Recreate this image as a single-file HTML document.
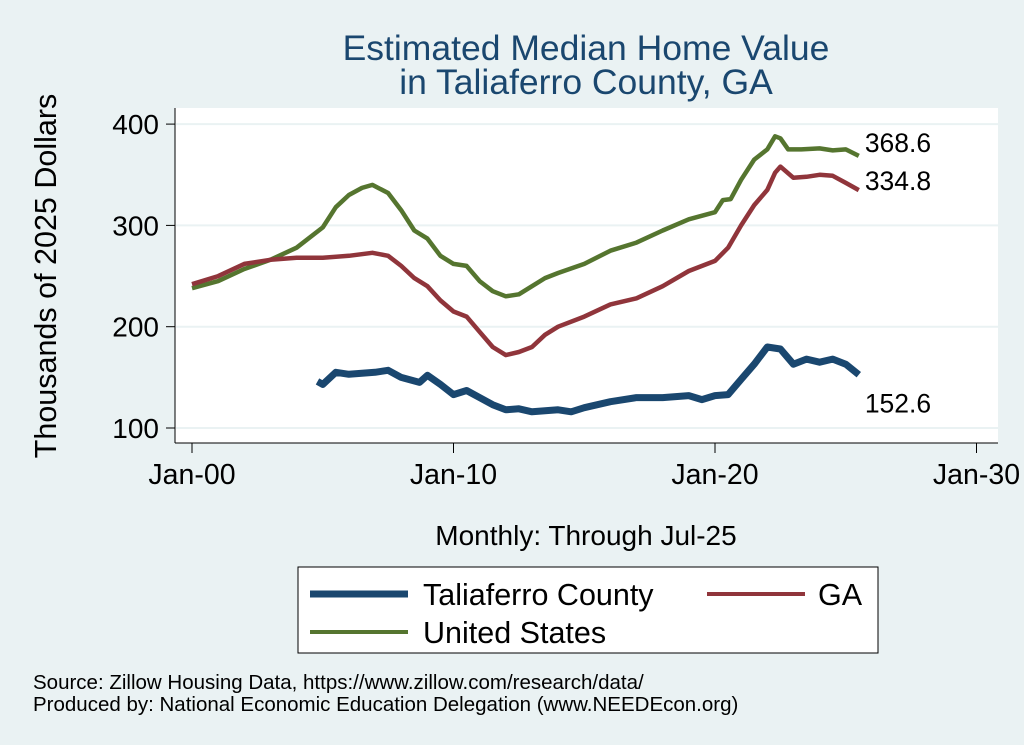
<!DOCTYPE html>
<html><head><meta charset="utf-8"><style>
body{margin:0;background:#eaf2f3;}
svg{display:block;font-family:"Liberation Sans",sans-serif;}
</style></head><body>
<svg id="chart" width="1024" height="745">
<rect x="0" y="0" width="1024" height="745" fill="#eaf2f3"/>
<rect x="175" y="108" width="823" height="335" fill="#ffffff"/>
<text x="586" y="60" font-size="35.5" fill="#1a476f" text-anchor="middle">Estimated Median Home Value</text>
<text x="586" y="94" font-size="35.5" fill="#1a476f" text-anchor="middle">in Taliaferro County, GA</text>
<text transform="translate(56,276) rotate(-90)" font-size="30.5" text-anchor="middle" fill="#000">Thousands of 2025 Dollars</text>
<text x="586" y="545" font-size="28" text-anchor="middle">Monthly: Through Jul-25</text>
<g id="grid"></g><g id="axes"></g><g id="series"></g>
<rect x="298" y="567" width="580" height="86" fill="#fff" stroke="#000" stroke-width="1"/>
<line x1="310" y1="594" x2="408" y2="594" stroke="#1a476f" stroke-width="7"/>
<text x="423" y="605" font-size="30.5">Taliaferro County</text>
<line x1="707" y1="594" x2="805" y2="594" stroke="#90353b" stroke-width="4"/>
<text x="818" y="605" font-size="30.5">GA</text>
<line x1="310" y1="632" x2="408" y2="632" stroke="#55752f" stroke-width="4"/>
<text x="423" y="643" font-size="30.5">United States</text>
<text x="33" y="689" font-size="20.5">Source: Zillow Housing Data, https://www.zillow.com/research/data/</text>
<text x="33" y="711" font-size="20.5">Produced by: National Economic Education Delegation (www.NEEDEcon.org)</text>
</svg>
<script>
const yTicks=[100,200,300,400];
const xTicks=[2000,2010,2020,2030];
const xTickLabels=["Jan-00","Jan-10","Jan-20","Jan-30"];
const usX=[2000,2001,2002,2003,2004,2005,2005.5,2006,2006.5,2006.9,2007.5,2008,2008.5,2009,2009.5,2010,2010.5,2011,2011.5,2012,2012.5,2013,2013.5,2014,2015,2016,2017,2018,2019,2020,2020.3,2020.6,2021,2021.5,2022,2022.3,2022.5,2022.8,2023.3,2024,2024.5,2025,2025.5];
const usY=[238,245,257,266,278,298,318,330,337,340,332,315,295,287,270,262,260,245,235,230,232,240,248,253,262,275,283,295,306,313,325,326,345,365,375,388,386,375,375,376,374,375,368.6];
const gaX=[2000,2001,2002,2003,2004,2005,2006,2006.9,2007.5,2008,2008.5,2009,2009.5,2010,2010.5,2011,2011.5,2012,2012.5,2013,2013.5,2014,2015,2016,2017,2018,2019,2020,2020.5,2021,2021.5,2022,2022.3,2022.5,2023,2023.5,2024,2024.5,2025,2025.5];
const gaY=[242,250,262,266,268,268,270,273,270,260,248,240,226,215,210,195,180,172,175,180,192,200,210,222,228,240,255,265,278,300,320,335,352,358,347,348,350,349,342,334.8];
const tcX=[2004.8,2005,2005.5,2006,2007,2007.5,2008,2008.7,2009,2009.5,2010,2010.5,2011,2011.5,2012,2012.5,2013,2014,2014.5,2015,2016,2017,2018,2019,2019.5,2020,2020.5,2021,2021.5,2022,2022.5,2023,2023.5,2024,2024.5,2025,2025.5];
const tcY=[146,143,155,153,155,157,150,145,152,143,133,137,130,123,118,119,116,118,116,120,126,130,130,132,128,132,133,148,163,180,178,163,168,165,168,163,152.6];
const NS="http://www.w3.org/2000/svg";
const sx=v=>192+(v-2000)*26.15;
const sy=v=>428-(v-100)*1.013;
function mk(tag,attrs,parent){const e=document.createElementNS(NS,tag);for(const k in attrs)e.setAttribute(k,attrs[k]);document.getElementById(parent).appendChild(e);return e;}
const axes='axes';
let a=mk('line',{x1:175,y1:108,x2:175,y2:443,stroke:'#000'},axes);


a=mk('line',{x1:175,y1:443,x2:998,y2:443,stroke:'#000'},axes);


yTicks.forEach(t=>{
 const g=mk('line',{x1:176,y1:sy(t),x2:998,y2:sy(t),stroke:'#eaf2f3','stroke-width':2},'grid');
 
 
 const tk=mk('line',{x1:166,y1:sy(t),x2:175,y2:sy(t),stroke:'#000'},axes);
 
 
 const tx=mk('text',{x:159,y:sy(t)+10,'font-size':28,'text-anchor':'end'},axes);
 tx.textContent=t;
 
 
});
xTicks.forEach((t,i)=>{
 const tk=mk('line',{x1:sx(t),y1:443,x2:sx(t),y2:453,stroke:'#000'},axes);
 
 
 const tx=mk('text',{x:sx(t),y:484,'font-size':28.5,'text-anchor':'middle'},axes);
 tx.textContent=xTickLabels[i];
 
 
});
function series(xs,ys,color,w,name,dy){
 const d=xs.map((x,i)=>(i?'L':'M')+sx(x).toFixed(1)+','+sy(ys[i]).toFixed(1)).join(' ');
 const p=mk('path',{d:d,fill:'none',stroke:color,'stroke-width':w,'stroke-linejoin':'round'},'series');
 
 
 const n=xs.length-1;
 const t=mk('text',{x:sx(xs[n])+6,y:sy(ys[n])+dy,'font-size':26.5},'series');
 t.textContent=ys[n].toFixed(1);
 
 
}
series(usX,usY,'#55752f',4.5,'us',-4);
series(gaX,gaY,'#90353b',4.5,'ga',0);
series(tcX,tcY,'#1a476f',7,'taliaferro',38);
</script>
</body></html>
